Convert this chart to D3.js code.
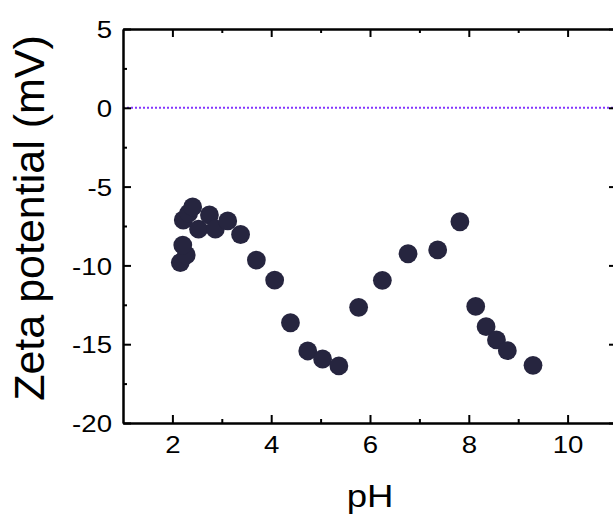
<!DOCTYPE html>
<html>
<head>
<meta charset="utf-8">
<script src="https://cdn.jsdelivr.net/npm/d3@7"></script>
<style>
  html, body { margin: 0; padding: 0; background: #fff; }
  svg { display: block; }
</style>
</head>
<body>
<div id="chart"></div>
<script>
// zeta potential vs pH
const PH = [2.16, 2.28, 2.21, 2.22, 2.33, 2.41, 2.53, 2.75, 2.87, 3.12, 3.38, 3.70, 4.07,
  4.39, 4.74, 5.04, 5.37, 5.77, 6.25, 6.77, 7.37, 7.82, 8.14, 8.35, 8.56, 8.78, 9.30];
const ZETA = [-9.82, -9.34, -8.71, -7.12, -6.68, -6.29, -7.70, -6.80, -7.69, -7.18, -8.04, -9.66, -10.93,
  -13.64, -15.43, -15.94, -16.38, -12.66, -10.95, -9.26, -9.02, -7.23, -12.60, -13.89, -14.73, -15.41, -16.34];

const X_DOMAIN = [1, 11];
const Y_DOMAIN = [-20, 5];
const X_MAJOR = [2, 4, 6, 8, 10];
const X_MINOR = [3, 5, 7, 9];
const Y_MAJOR = [5, 0, -5, -10, -15, -20];
const Y_MINOR = [2.5, -2.5, -7.5, -12.5, -17.5];
const X_TITLE = "pH";
const Y_TITLE = "Zeta potential (mV)";

const W = 613, H = 515;
const m = { t: 29, l: 123, b: 423, r: 617 };
const FONT = "'Liberation Sans', Arial, sans-serif";
const fmt = d => String(d); // plain hyphen minus, like the original

const svg = d3.select("#chart").append("svg").attr("width", W).attr("height", H);
svg.append("rect").attr("width", W).attr("height", H).attr("fill", "#fff");

const x = d3.scaleLinear().domain(X_DOMAIN).range([m.l, m.r]);
const y = d3.scaleLinear().domain(Y_DOMAIN).range([m.b, m.t]);

// zero line
svg.append("line")
  .attr("x1", x(X_DOMAIN[0])).attr("x2", x(X_DOMAIN[1]))
  .attr("y1", y(0)).attr("y2", y(0))
  .attr("stroke", "#8436ff").attr("stroke-width", 2).attr("stroke-dasharray", "2 2");

// points
svg.append("g").selectAll("circle").data(PH.map((p, i) => [p, ZETA[i]])).join("circle")
  .attr("cx", d => x(d[0])).attr("cy", d => y(d[1])).attr("r", 9.4)
  .attr("fill", "#26253f");

function styleAxis(g) {
  g.select(".domain").attr("stroke", "#000").attr("stroke-width", 2);
  g.selectAll(".tick line").attr("stroke", "#000").attr("stroke-width", 2);
}

// minor ticks (all four sides, inward)
const minors = [
  [d3.axisBottom(x), `0,${m.b}`, X_MINOR],
  [d3.axisTop(x), `0,${m.t}`, X_MINOR],
  [d3.axisLeft(y), `${m.l},0`, Y_MINOR],
  [d3.axisRight(y), `${m.r},0`, Y_MINOR],
];
minors.forEach(([ax, tr, vals]) => {
  svg.append("g").attr("transform", `translate(${tr})`)
    .call(ax.tickValues(vals).tickSizeInner(-4).tickSizeOuter(0).tickFormat(""))
    .call(styleAxis);
});

// major ticks
const xb = svg.append("g").attr("transform", `translate(0,${m.b})`)
  .call(d3.axisBottom(x).tickValues(X_MAJOR).tickFormat(fmt).tickSizeInner(-8).tickSizeOuter(0))
  .call(styleAxis);
svg.append("g").attr("transform", `translate(0,${m.t})`)
  .call(d3.axisTop(x).tickValues(X_MAJOR).tickSizeInner(-8).tickSizeOuter(0).tickFormat(""))
  .call(styleAxis);
const yl = svg.append("g").attr("transform", `translate(${m.l},0)`)
  .call(d3.axisLeft(y).tickValues(Y_MAJOR).tickFormat(fmt).tickSizeInner(-8).tickSizeOuter(0))
  .call(styleAxis);
svg.append("g").attr("transform", `translate(${m.r},0)`)
  .call(d3.axisRight(y).tickValues(Y_MAJOR).tickSizeInner(-8).tickSizeOuter(0).tickFormat(""))
  .call(styleAxis);

// tick labels: a bit wider than regular Arial in the reference
xb.selectAll(".tick text")
  .attr("y", null).attr("dy", null)
  .attr("transform", "translate(0,30) scale(1.15,1)")
  .attr("font-family", FONT).attr("font-size", 24).attr("fill", "#000");
yl.selectAll(".tick text")
  .attr("x", null).attr("dy", "0.36em")
  .attr("transform", "translate(-11,0) scale(1.15,1)")
  .attr("font-family", FONT).attr("font-size", 24).attr("fill", "#000");

// titles
svg.append("text")
  .attr("transform", `translate(${(m.l + m.r) / 2},507) scale(1.18,1)`)
  .attr("text-anchor", "middle").attr("font-family", FONT).attr("font-size", 31)
  .attr("fill", "#000").text(X_TITLE);
svg.append("text")
  .attr("transform", `translate(44,${(m.t + m.b) / 2 - 8}) rotate(-90)`)
  .attr("text-anchor", "middle").attr("font-family", FONT).attr("font-size", 43)
  .attr("fill", "#000").text(Y_TITLE);
</script>
</body>
</html>
